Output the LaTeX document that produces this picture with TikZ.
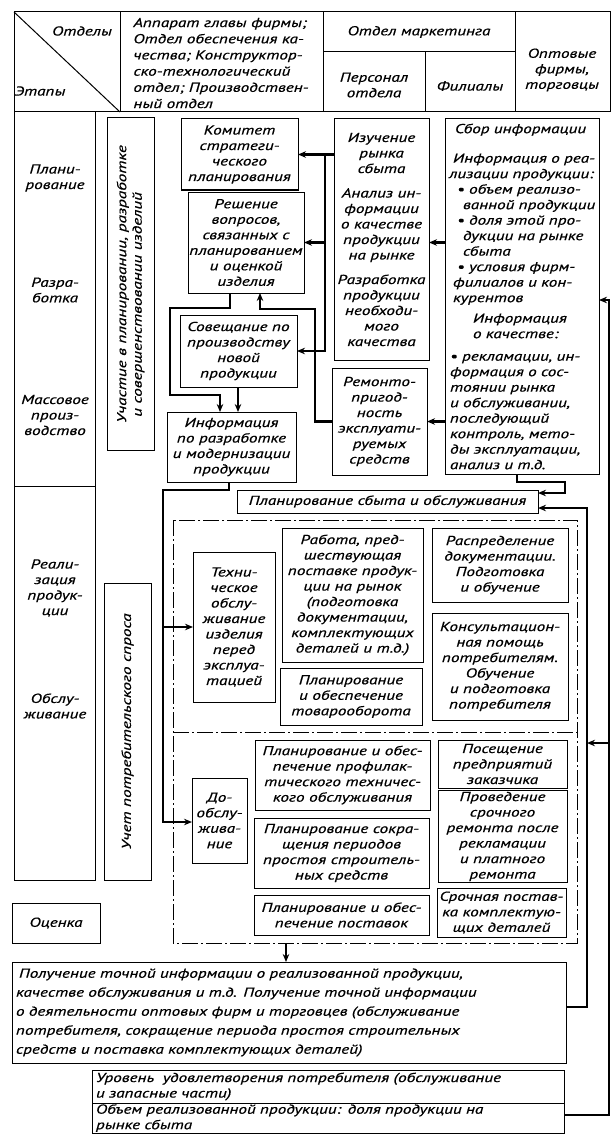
\documentclass[tikz,border=0pt]{standalone}
\usepackage{fontspec}
\setmainfont{PT Sans}[FakeStretch=1.32, FakeBold=0.6]
\usetikzlibrary{arrows.meta}
\newcommand\dfont{\fontsize{13}{15.5}\selectfont\itshape}
\begin{document}
\begin{tikzpicture}[x=1pt,y=-1pt,
  every node/.style={font=\dfont, inner sep=1pt, outer sep=0pt},
  box/.style={draw, line width=1pt, align=center},
  lbl/.style={align=center},
  frame/.style={line width=1pt},
  conn/.style={line width=2.6pt, -{Stealth[length=8pt,width=6.5pt]}},
  dd/.style={line width=0.8pt, dash pattern=on 16pt off 3pt on 2pt off 3pt},
]
\useasboundingbox (0,0) rectangle (614,1134);

% ---------- header ----------
\draw[frame] (14,12) rectangle (610,112);
\draw[frame] (120,12) -- (120,112);
\draw[frame] (323,12) -- (323,112);
\draw[frame] (515,12) -- (515,112);
\draw[frame] (323,52) -- (515,52);
\draw[frame] (425,52) -- (425,112);
\draw[frame] (14,12) -- (120,112);
\node[lbl] (hOtd) at (82,31) {Отделы};
\node[lbl] (hEt) at (40,91) {Этапы};
\node[align=left, font=\fontsize{13}{16.2}\selectfont\itshape] (hApp) at (221,63)
  {Аппарат главы фирмы;\\Отдел обеспечения ка-\\чества; Конструктор-\\ско-технологический\\отдел; Производствен-\\ный отдел};
\node[lbl] (hMark) at (419,32) {Отдел маркетинга};
\node[lbl] (hPers) at (374,85) {Персонал\\отдела};
\node[lbl] (hFil) at (470,86) {Филиалы};
\node[lbl] (hOpt) at (562,70) {Оптовые\\фирмы,\\торговцы};

% ---------- stages column ----------
\draw[frame] (14,112) -- (14,880) -- (95,880) -- (95,112);
\draw[frame] (14,486) -- (95,486);
\node[lbl] (sPlan) at (55,178) {Плани-\\рование};
\node[lbl] (sRazr) at (55,290) {Разра-\\ботка};
\node[lbl] (sMass) at (55,415) {Массовое\\произ-\\водство};
\node[lbl] (sReal) at (55,588) {Реали-\\зация\\продук-\\ции};
\node[lbl] (sObs) at (55,706) {Обслу-\\живание};

\node[box, rotate=90, minimum width=332pt, minimum height=47pt, align=left] (uch) at (130.5,284)
  {Участие в планировании, разработке\\\hspace*{6pt}и совершенствовании изделий};
\node[box, rotate=90, minimum width=297pt, minimum height=47pt] (uchet) at (127.5,731.5)
  {Учет потребительского спроса};
\node[box, minimum width=88pt, minimum height=40pt] (ocen) at (56,923) {Оценка};

% ---------- upper blocks ----------
\node[box, minimum width=117pt, minimum height=71pt] (kom) at (239.5,154.5)
  {Комитет\\стратеги-\\ческого\\планирования};
\node[box, minimum width=116pt, minimum height=101pt] (resh) at (246,242.5)
  {Решение\\вопросов,\\связанных с\\планированием\\и оценкой\\изделия};
\node[box, minimum width=117pt, minimum height=72pt] (sov) at (238.5,351)
  {Совещание по\\производству\\новой\\продукции};
\node[box, minimum width=129pt, minimum height=70pt] (inf) at (231.5,447)
  {Информация\\по разработке\\и модернизации\\продукции};
\node[box, minimum width=95pt, minimum height=241pt] (izu) at (381.5,239.5)
  {Изучение\\рынка\\сбыта\\[9pt]Анализ ин-\\формации\\о качестве\\продукции\\на рынке\\[9pt]Разработка\\продукции\\необходи-\\мого\\качества};
\node[box, minimum width=95pt, minimum height=107pt] (rem) at (379.5,421.5)
  {Ремонто-\\пригод-\\ность\\эксплуати-\\руемых\\средств};
\node[box, minimum width=154pt, minimum height=355pt, align=left, text width=150pt] (sbor) at (522,296.5)
  {\hspace*{8pt}Сбор информации\\[14pt]
   \hspace*{6pt}Информация о реа-\\
   \hspace*{2pt}лизации продукции:\\
   \hspace*{10pt}• объем реализо-\\
   \hspace*{16pt}ванной продукции\\
   \hspace*{10pt}• доля этой про-\\
   \hspace*{16pt}дукции на рынке\\
   \hspace*{16pt}сбыта\\
   \hspace*{10pt}• условия фирм-\\
   \hspace*{6pt}филиалов и кон-\\
   \hspace*{6pt}курентов\\[5pt]
   \hspace*{26pt}Информация\\
   \hspace*{26pt}о качестве:\\[7pt]
   \hspace*{3pt}• рекламации, ин-\\
   \hspace*{3pt}формация о сос-\\
   \hspace*{3pt}тоянии рынка\\
   \hspace*{3pt}и обслуживании,\\
   \hspace*{3pt}последующий\\
   \hspace*{3pt}контроль, мето-\\
   \hspace*{3pt}ды эксплуатации,\\
   \hspace*{3pt}анализ и т.д.};

\node[box, minimum width=301pt, minimum height=23pt] (plan) at (387.5,501.5)
  {Планирование сбыта и обслуживания};

% ---------- container ----------
\draw[dd] (173,520) rectangle (577,943);
\draw[dd] (173,732) -- (577,732);

\node[box, minimum width=82pt, minimum height=150pt] (tex) at (234,627)
  {Техни-\\ческое\\обслу-\\живание\\изделия\\перед\\эксплуа-\\тацией};
\node[box, minimum width=141pt, minimum height=134pt] (rab) at (352.5,595)
  {Работа, пред-\\шествующая\\поставке продук-\\ции на рынок\\(подготовка\\документации,\\комплектующих\\деталей и т.д.)};
\node[box, minimum width=136pt, minimum height=74pt] (rasp) at (500,565)
  {Распределение\\документации.\\Подготовка\\и обучение};
\node[box, minimum width=136pt, minimum height=107pt] (kons) at (500,666.5)
  {Консультацион-\\ная помощь\\потребителям.\\Обучение\\и подготовка\\потребителя};
\node[box, minimum width=142pt, minimum height=57pt] (tov) at (351,696.5)
  {Планирование\\и обеспечение\\товарооборота};
\node[box, minimum width=175pt, minimum height=70pt] (prof) at (342.5,775)
  {Планирование и обес-\\печение профилак-\\тического техничес-\\кого обслуживания};
\node[box, minimum width=129pt, minimum height=48pt] (pos) at (502.5,764)
  {Посещение\\предприятий\\заказчика};
\node[box, minimum width=129pt, minimum height=87pt] (prov) at (502.5,836.5)
  {Проведение\\срочного\\ремонта после\\рекламации\\и платного\\ремонта};
\node[box, minimum width=55pt, minimum height=85pt] (doob) at (219.5,820.5)
  {До-\\обслу-\\жива-\\ние};
\node[box, minimum width=175pt, minimum height=70pt] (sokr) at (341.5,853)
  {Планирование сокра-\\щения периодов\\простоя строитель-\\ных средств};
\node[box, minimum width=175pt, minimum height=40pt] (post) at (341.5,915)
  {Планирование и обес-\\печение поставок};
\node[box, minimum width=129pt, minimum height=49pt] (sroch) at (501.5,912.5)
  {Срочная постав-\\ка комплектую-\\щих деталей};

% ---------- bottom ----------
\node[box, minimum width=554pt, minimum height=101pt, align=left, text width=546pt,
      font=\fontsize{13}{19}\selectfont\itshape] (pol) at (289,1012.5)
  {\hspace*{3pt}Получение точной информации о реализованной продукции,\\
   качестве обслуживания и т.д. Получение точной информации\\
   о деятельности оптовых фирм и торговцев (обслуживание\\
   потребителя, сокращение периода простоя строительных\\
   средств и поставка комплектующих деталей)};
\node[box, minimum width=472pt, minimum height=33pt, align=left, text width=464pt] (urov) at (328,1086.5)
  {Уровень\ \ удовлетворения потребителя (обслуживание\\и запасные части)};
\node[box, minimum width=472pt, minimum height=30pt, align=left, text width=464pt] (obem) at (328,1118)
  {Объем реализованной продукции: доля продукции на\\рынке сбыта};

% ---------- connectors ----------
\coordinate (jIz) at (325,154.5);
\coordinate (jIzB) at (325,351);
\draw[conn] (izu.west |- kom.east) -- (kom.east);
\draw[conn] (jIz) -- (jIzB) -- (sov.east);
\draw[conn] (jIz |- resh.east) -- (resh.east);
\draw[conn] (sbor.west |- resh.east) -- (izu.east |- resh.east);
\draw[conn] (sbor.west |- rem.east) -- (rem.east);

\coordinate (r1) at (315,421.5);
\coordinate (r2) at (315,309);
\coordinate (r3) at (260,309);
\draw[conn] (rem.west) -- (r1) -- (r2) -- (r3) -- (r3 |- resh.south);

\coordinate (s1) at (230,308);
\coordinate (s2) at (170,308);
\coordinate (s3) at (170,395);
\coordinate (s4) at (220,395);
\draw[conn] (s1 |- resh.south) -- (s1) -- (s2) -- (s3) -- (s4) -- (s4 |- inf.north);
\coordinate (v1) at (238,387);
\draw[conn] (v1 |- sov.south) -- (v1 |- inf.north);

\coordinate (i1) at (229,490);
\coordinate (i2) at (163,490);
\coordinate (i3) at (163,822);
\draw[conn] (i1 |- inf.south) -- (i1) -- (i2) -- (i3) -- (doob.west |- i3);
\draw[conn] (i2 |- tex.west) -- (tex.west);

\coordinate (p1) at (517,482);
\coordinate (p2) at (565,482);
\coordinate (p3) at (565,493);
\draw[conn] (p1 |- sbor.south) -- (p1) -- (p2) -- (p3) -- (plan.east |- p3);

\coordinate (q1) at (587,1007);
\coordinate (q2) at (587,508);
\draw[conn] (pol.east |- q1) -- (q1) -- (q2) -- (plan.east |- q2);

\coordinate (o1) at (609,1115);
\coordinate (o2) at (609,300);
\draw[conn] (obem.east |- o1) -- (o1) -- (o2) -- (sbor.east |- o2);
\coordinate (o3) at (609,743);
\draw[conn] (o3) -- (q1 |- o3);

\coordinate (c1) at (286,943);
\draw[conn] (c1) -- (c1 |- pol.north);
\end{tikzpicture}
\end{document}
